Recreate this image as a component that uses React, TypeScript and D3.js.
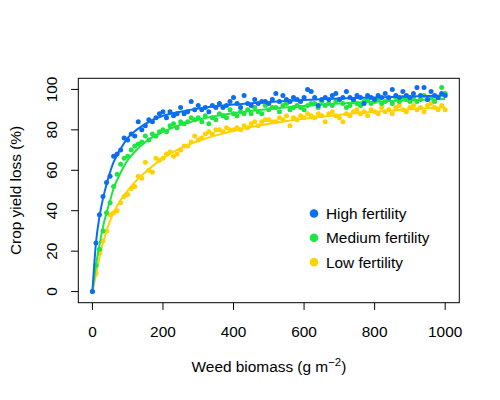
import React from "react";
import * as d3 from "d3";

const xObs: number[] = d3.range(0, 1001, 10);

const highObs: number[] = [
  0, 24, 38, 47, 54, 57, 67, 68, 70, 76, 75, 78, 77, 84, 80, 82, 85, 84, 86, 88,
  89, 86, 89, 87, 88, 91, 88, 89, 94, 90, 92, 90, 91, 89, 92, 91, 93, 91, 92, 94,
  96, 93, 91, 97, 93, 92, 95, 93, 94, 94, 93, 95, 98, 94, 97, 95, 94, 96, 95, 94,
  96, 100, 99, 96, 92, 95, 96, 95, 97, 98, 95, 96, 99, 96, 95, 97, 96, 93, 97, 96,
  95, 97, 96, 98, 96, 100, 97, 96, 99, 97, 96, 98, 101, 97, 101, 95, 99, 97, 96, 98,
  97,
];

const mediumObs: number[] = [
  0, 13, 21, 30, 39, 44, 52, 58, 63, 66, 67, 70, 72, 73, 74, 77, 75, 78, 77, 79,
  80, 79, 82, 83, 81, 84, 83, 84, 86, 85, 86, 84, 87, 83, 86, 85, 88, 87, 86, 90,
  88, 87, 89, 88, 90, 88, 91, 89, 88, 92, 90, 91, 91, 89, 92, 93, 90, 91, 92, 91,
  90, 92, 93, 93, 91, 94, 92, 93, 92, 94, 95, 93, 91, 92, 94, 93, 92, 94, 95, 93,
  94, 95, 93, 94, 95, 93, 96, 94, 96, 95, 94, 96, 94, 95, 97, 95, 96, 94, 96, 101,
  98,
];

const lowObs: number[] = [
  0, 9, 19, 25, 30, 38, 39, 40, 44, 47, 48, 51, 52, 57, 56, 64, 60, 59, 66, 65,
  66, 68, 69, 67, 68, 70, 72, 72, 74, 77, 75, 76, 78, 79, 78, 80, 80, 79, 81, 80,
  80, 81, 80, 82, 81, 83, 84, 82, 84, 85, 85, 84, 84, 86, 85, 87, 82, 86, 85, 87,
  86, 88, 87, 86, 88, 87, 84, 88, 89, 87, 86, 84, 88, 87, 89, 90, 88, 89, 87, 90,
  89, 88, 91, 89, 90, 88, 91, 92, 90, 89, 91, 92, 90, 91, 89, 92, 93, 91, 90, 92,
  90,
];

const xFit: number[] = [0, 10, 20, 30, 40, 50, 60, 75, 100, 125, 150, 200, 250, 300, 400, 500, 600, 700, 800, 900, 1000];
const highFit: number[] = [0, 24, 37, 46, 53, 59, 64, 69, 76, 80, 83, 87, 89, 90.5, 92.5, 93.8, 94.8, 95.5, 96, 96.5, 97];
const mediumFit: number[] = [0, 13, 23, 32, 39, 45, 51, 57, 65, 70, 74, 79, 82.5, 85, 88.3, 90.3, 91.8, 93, 93.9, 94.6, 95.2];
const lowFit: number[] = [0, 8, 17, 24, 30, 35, 39, 44, 50, 55, 59, 66, 71, 74.5, 79.5, 83, 85.5, 87.5, 89, 90.2, 91.2];

const seriesNames: string[] = ["High fertility", "Medium fertility", "Low fertility"];
const seriesColors: string[] = ["#0A6EF0", "#1EE640", "#FFD200"];
const xTicks: number[] = [0, 200, 400, 600, 800, 1000];
const yTicks: number[] = [0, 20, 40, 60, 80, 100];

const FONT = "Arial, 'Liberation Sans', sans-serif";
const FS = 15.4;

export default function App() {
  const W = 500;
  const H = 400;
  const left = 78.3, right = 459.3, top = 78.3, bottom = 302.7;
  const x = d3.scaleLinear().domain([-40, 1040]).range([left, right]);
  const y = d3.scaleLinear().domain([-5.5, 105.5]).range([bottom, top]);

  const obs = [highObs, mediumObs, lowObs];
  const fits = [highFit, mediumFit, lowFit];
  const line = d3
    .line<[number, number]>()
    .x((d) => x(d[0]))
    .y((d) => y(d[1]))
    .curve(d3.curveMonotoneX);

  const order = [2, 1, 0];

  return (
    <svg
      width={W}
      height={H}
      style={{ position: "absolute", left: 0, top: 0, background: "#fff" }}
      fontFamily={FONT}
    >
      <rect x={0} y={0} width={W} height={H} fill="#fff" />
      {order.map((s) => (
        <g key={s}>
          {obs[s].map((v, i) => (
            <circle key={i} cx={x(xObs[i])} cy={y(v)} r={2.5} fill={seriesColors[s]} />
          ))}
          <path
            d={line(xFit.map((xv, i) => [xv, fits[s][i]] as [number, number])) || ""}
            fill="none"
            stroke={seriesColors[s]}
            strokeWidth={2}
          />
        </g>
      ))}
      <rect
        x={left}
        y={top}
        width={right - left}
        height={bottom - top}
        fill="none"
        stroke="#000"
        strokeWidth={1}
      />
      {xTicks.map((t) => (
        <g key={t}>
          <line x1={x(t)} x2={x(t)} y1={bottom} y2={bottom + 7.2} stroke="#000" />
          <text x={x(t)} y={337} textAnchor="middle" fontSize={FS} fill="#000">
            {t}
          </text>
        </g>
      ))}
      {yTicks.map((t) => (
        <g key={t}>
          <line x1={left} x2={left - 7.2} y1={y(t)} y2={y(t)} stroke="#000" />
          <text
            transform={`translate(56.5,${y(t)}) rotate(-90)`}
            textAnchor="middle"
            fontSize={FS}
            fill="#000"
          >
            {t}
          </text>
        </g>
      ))}
      <text x={269} y={372} textAnchor="middle" fontSize={FS} fill="#000">
        Weed biomass (g m
        <tspan fontSize={11.5} dy={-6.5}>−2</tspan>
        <tspan dy={6.5}>)</tspan>
      </text>
      <text
        transform={`translate(20.5,${(top + bottom) / 2}) rotate(-90)`}
        textAnchor="middle"
        fontSize={FS}
        fill="#000"
      >
        Crop yield loss (%)
      </text>
      {seriesNames.map((n, i) => (
        <g key={n}>
          <circle cx={314} cy={213.5 + i * 24.3} r={4.3} fill={seriesColors[i]} />
          <text x={326} y={219 + i * 24.3} fontSize={FS} fill="#000">
            {n}
          </text>
        </g>
      ))}
    </svg>
  );
}
